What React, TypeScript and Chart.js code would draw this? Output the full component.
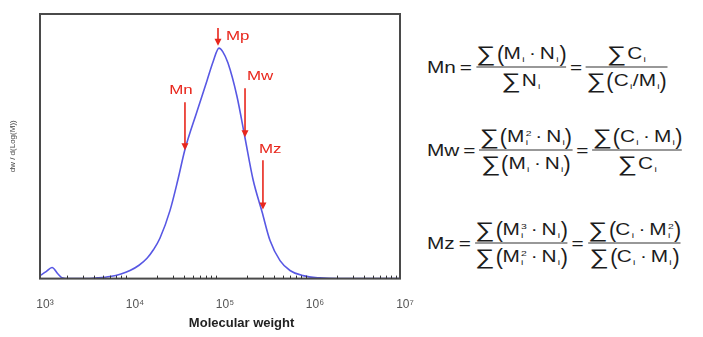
import React, { useEffect, useRef } from "react";
import { Chart, registerables } from "chart.js";

Chart.register(...registerables);

// ---- data ----
const MOLECULAR_WEIGHT = [
  1000, 1170, 1360, 1585, 1750, 2150, 3160, 4300, 6000, 7940, 10000, 12600, 15450,
  18200, 21500, 27800, 34100, 40800, 55500, 71800, 83600, 97500, 107200, 122700, 154500,
  189700, 232800, 293100, 359700, 464500, 599800, 835600, 1288000, 1995000, 10000000,
];
const DW_DLOGM = [
  0.013, 0.03, 0.048, 0.02, 0.004, 0, 0, 0.003, 0.009, 0.02, 0.035, 0.058, 0.088,
  0.125, 0.175, 0.295, 0.43, 0.56, 0.725, 0.86, 0.94, 1.0, 0.985, 0.935, 0.79,
  0.61, 0.43, 0.29, 0.165, 0.078, 0.035, 0.013, 0.003, 0, 0,
];
const TICK_VALUES = [1e3, 1e4, 1e5, 1e6, 1e7];
const TICK_LABELS = ["10³", "10⁴", "10⁵", "10⁶", "10⁷"];
const MARKER_NAMES = ["Mn", "Mp", "Mw", "Mz"];
const MARKER_MW = [40800, 95000, 189700, 300000];
const ARROW_FROM = [0.765, 1.087, 0.826, 0.513];
const ARROW_TO = [0.557, 1.01, 0.613, 0.3];
const X_TITLE = "Molecular weight";
const Y_TITLE = "dw / d(Log(M))";

// label placement (style only)
const LABEL_ALIGN = ["center", "left", "left", "left"];
const LABEL_DX = [-4, 8, 2, -4];
const LABEL_DY = [-8, 12, -8, -7];

const RED = "#e8261c";

const overlayPlugin = {
  id: "overlay",
  afterDatasetsDraw(chart: any) {
    const { ctx, chartArea: a, scales } = chart;
    const xs = scales.x;
    const ys = scales.y;
    ctx.save();
    // frame
    ctx.strokeStyle = "#4a4a4a";
    ctx.lineWidth = 2;
    ctx.strokeRect(a.left, a.top, a.right - a.left, a.bottom - a.top);
    // minor ticks pointing inward on the bottom axis
    ctx.strokeStyle = "#333";
    ctx.lineWidth = 1;
    for (let d = 0; d < TICK_VALUES.length - 1; d++) {
      for (let k = 2; k <= 9; k++) {
        const px = Math.round(xs.getPixelForValue(TICK_VALUES[d] * k)) + 0.5;
        ctx.beginPath();
        ctx.moveTo(px, a.bottom);
        ctx.lineTo(px, a.bottom - 3);
        ctx.stroke();
      }
    }
    // arrows and labels
    for (let i = 0; i < MARKER_NAMES.length; i++) {
      const px = xs.getPixelForValue(MARKER_MW[i]);
      const y1 = ys.getPixelForValue(ARROW_FROM[i]);
      const y2 = ys.getPixelForValue(ARROW_TO[i]);
      ctx.strokeStyle = RED;
      ctx.fillStyle = RED;
      ctx.lineWidth = 1.6;
      ctx.beginPath();
      ctx.moveTo(px, y1);
      ctx.lineTo(px, y2 - 5);
      ctx.stroke();
      ctx.beginPath();
      ctx.moveTo(px - 3.5, y2 - 7);
      ctx.lineTo(px + 3.5, y2 - 7);
      ctx.lineTo(px, y2);
      ctx.closePath();
      ctx.fill();
      ctx.save();
      ctx.translate(px + LABEL_DX[i], y1 + LABEL_DY[i]);
      ctx.scale(1.3, 1);
      ctx.font = "13px 'Liberation Sans', Arial, sans-serif";
      ctx.textAlign = LABEL_ALIGN[i] as CanvasTextAlign;
      ctx.textBaseline = "alphabetic";
      ctx.fillText(MARKER_NAMES[i], 0, 0);
      ctx.restore();
    }
    // y title
    ctx.save();
    ctx.translate(13, (a.top + a.bottom) / 2);
    ctx.rotate(-Math.PI / 2);
    ctx.font = "8px 'Liberation Sans', Arial, sans-serif";
    ctx.fillStyle = "#444";
    ctx.textAlign = "center";
    ctx.textBaseline = "middle";
    ctx.fillText(Y_TITLE, 0, 0);
    ctx.restore();
    // x title
    ctx.font = "bold 13px 'Liberation Sans', Arial, sans-serif";
    ctx.fillStyle = "#222";
    ctx.textAlign = "center";
    ctx.textBaseline = "middle";
    ctx.fillText(X_TITLE, a.left + (a.right - a.left) * 0.56, a.bottom + 45);
    ctx.restore();
  },
};

const sumStyle: React.CSSProperties = { fontSize: 21, lineHeight: "22px", marginRight: 1 };
const parenStyle: React.CSSProperties = {
  fontSize: 22,
  lineHeight: "22px",
  display: "inline-block",
  transform: "scaleX(0.75)",
  margin: "0 -1px",
};

const Sum = () => <span style={sumStyle}>∑</span>;
const P = ({ c }: { c: string }) => <span style={parenStyle}>{c}</span>;
const V = ({ v, sup }: { v: string; sup?: string }) => (
  <span style={{ display: "inline-flex", alignItems: "center" }}>
    <span>{v}</span>
    <span
      style={{
        display: "inline-flex",
        flexDirection: "column",
        fontSize: 8,
        lineHeight: "9px",
        marginLeft: 1,
        marginTop: 2,
      }}
    >
      <span>{sup || "\u00a0"}</span>
      <span>i</span>
    </span>
  </span>
);
const Dot = () => <span style={{ margin: "0 3px" }}>·</span>;
const Row = ({ children }: { children: React.ReactNode }) => (
  <span style={{ display: "inline-flex", alignItems: "center", height: 22 }}>{children}</span>
);
const Frac = ({ num, den }: { num: React.ReactNode; den: React.ReactNode }) => (
  <span style={{ display: "inline-flex", flexDirection: "column", alignItems: "center" }}>
    <span style={{ paddingBottom: 2 }}>{num}</span>
    <span style={{ alignSelf: "stretch", borderTop: "1px solid #333" }} />
    <span style={{ paddingTop: 2 }}>{den}</span>
  </span>
);
const Eq = () => <span style={{ margin: "0 3px" }}>=</span>;

const Formula = ({ top, children }: { top: number; children: React.ReactNode }) => (
  <div
    style={{
      position: "absolute",
      left: 427,
      top,
      transform: "translateY(-50%) scaleX(1.3)",
      transformOrigin: "0 50%",
      display: "flex",
      alignItems: "center",
      whiteSpace: "nowrap",
      fontFamily: "'Liberation Sans', Arial, sans-serif",
      fontSize: 16,
      color: "#1c1c1c",
    }}
  >
    {children}
  </div>
);

export default function App() {
  const canvasRef = useRef<HTMLCanvasElement | null>(null);

  useEffect(() => {
    const canvas = canvasRef.current;
    if (!canvas) return;
    const chart = new Chart(canvas, {
      type: "line",
      data: {
        datasets: [
          {
            data: MOLECULAR_WEIGHT.map((m, i) => ({ x: m, y: DW_DLOGM[i] })),
            borderColor: "#5858e4",
            borderWidth: 1.6,
            pointRadius: 0,
            cubicInterpolationMode: "monotone",
            fill: false,
          },
        ],
      },
      options: {
        animation: false,
        responsive: false,
        maintainAspectRatio: false,
        devicePixelRatio: 1,
        layout: { padding: { left: 40, right: 20, top: 14, bottom: 14 } },
        plugins: { legend: { display: false }, tooltip: { enabled: false } },
        scales: {
          x: {
            type: "logarithmic",
            min: 1e3,
            max: 1e7,
            afterBuildTicks: (s: any) => {
              s.ticks = TICK_VALUES.map((v) => ({ value: v }));
            },
            ticks: {
              callback: (v: any) => {
                const idx = TICK_VALUES.indexOf(Number(v));
                return idx >= 0 ? TICK_LABELS[idx] : "";
              },
              padding: 11,
              labelOffset: 5,
              autoSkip: false,
              maxRotation: 0,
              font: { size: 12, family: "'Liberation Sans', Arial, sans-serif" },
              color: "#555",
            },
            grid: { display: false },
            border: { display: false },
          },
          y: { display: false, min: 0, max: 1.148 },
        },
      } as any,
      plugins: [overlayPlugin],
    });
    return () => chart.destroy();
  }, []);

  return (
    <div
      style={{
        position: "fixed",
        left: 0,
        top: 0,
        width: 703,
        height: 337,
        background: "#fff",
        overflow: "hidden",
      }}
    >
      <canvas
        ref={canvasRef}
        width={420}
        height={337}
        style={{ position: "absolute", left: 0, top: 0, width: 420, height: 337 }}
      />
      <Formula top={67}>
        <span>Mn</span>
        <Eq />
        <Frac
          num={<Row><Sum /><P c="(" /><V v="M" /><Dot /><V v="N" /><P c=")" /></Row>}
          den={<Row><Sum /><V v="N" /></Row>}
        />
        <Eq />
        <Frac
          num={<Row><Sum /><V v="C" /></Row>}
          den={<Row><Sum /><P c="(" /><V v="C" /><span>/</span><V v="M" /><P c=")" /></Row>}
        />
      </Formula>
      <Formula top={150}>
        <span>Mw</span>
        <Eq />
        <Frac
          num={<Row><Sum /><P c="(" /><V v="M" sup="2" /><Dot /><V v="N" /><P c=")" /></Row>}
          den={<Row><Sum /><P c="(" /><V v="M" /><Dot /><V v="N" /><P c=")" /></Row>}
        />
        <Eq />
        <Frac
          num={<Row><Sum /><P c="(" /><V v="C" /><Dot /><V v="M" /><P c=")" /></Row>}
          den={<Row><Sum /><V v="C" /></Row>}
        />
      </Formula>
      <Formula top={243}>
        <span>Mz</span>
        <Eq />
        <Frac
          num={<Row><Sum /><P c="(" /><V v="M" sup="3" /><Dot /><V v="N" /><P c=")" /></Row>}
          den={<Row><Sum /><P c="(" /><V v="M" sup="2" /><Dot /><V v="N" /><P c=")" /></Row>}
        />
        <Eq />
        <Frac
          num={<Row><Sum /><P c="(" /><V v="C" /><Dot /><V v="M" sup="2" /><P c=")" /></Row>}
          den={<Row><Sum /><P c="(" /><V v="C" /><Dot /><V v="M" /><P c=")" /></Row>}
        />
      </Formula>
    </div>
  );
}
